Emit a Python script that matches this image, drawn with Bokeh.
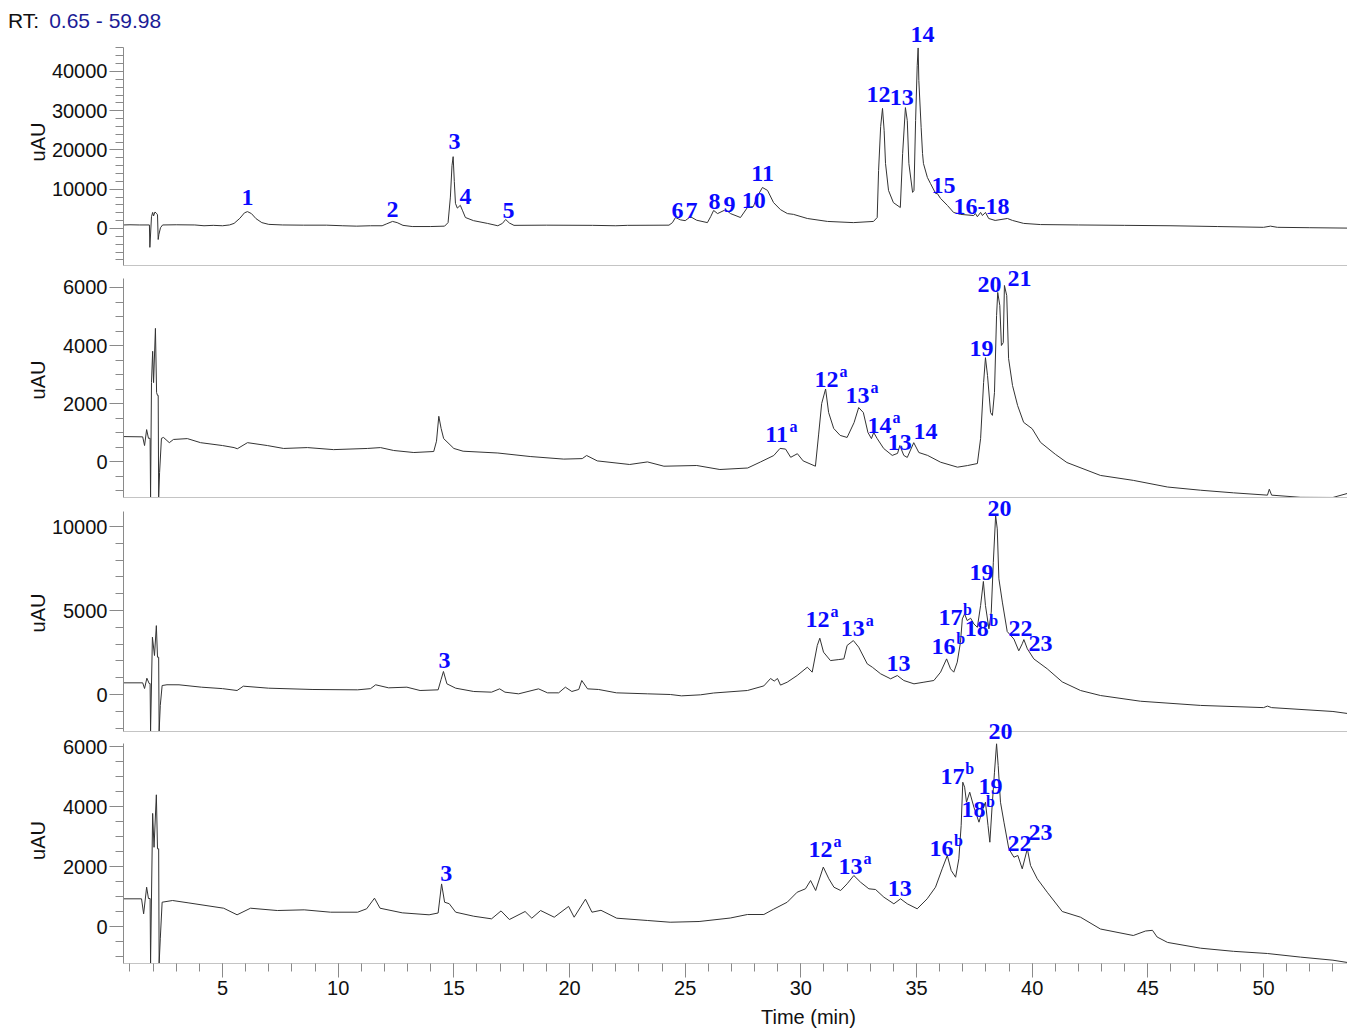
from bokeh.plotting import figure
from bokeh.models import Range1d, SingleIntervalTicker, FixedTicker, LabelSet, ColumnDataSource, Div
from bokeh.layouts import column
from bokeh.core.properties import value
from bokeh.embed import file_html
from bokeh.resources import INLINE

# ---------------- text ----------------
rt_prefix = "RT:"
rt_range_text = "0.65 - 59.98"
x_title = "Time (min)"
y_title = "uAU"

# ---------------- trace 1 ----------------
t1 = [0.72, 1.0, 1.4, 1.84, 1.86, 1.93, 1.98, 2.02, 2.08, 2.14,
      2.19, 2.22, 2.25, 2.32, 2.41, 3.0, 3.8, 4.2, 4.6, 5.0,
      5.3, 5.5, 5.75, 5.95, 6.08, 6.25, 6.45, 6.7, 7.0, 7.6,
      8.5, 9.5, 10.2, 10.8, 11.4, 11.9, 12.1, 12.35, 12.55, 12.8,
      13.2, 14.0, 14.6, 14.75, 14.85, 14.92, 14.97, 15.02, 15.07, 15.15,
      15.28, 15.38, 15.5, 15.85, 16.45, 16.9, 17.1, 17.24, 17.4, 17.6,
      19.0, 21.0, 22.0, 22.5, 24.3, 24.45, 24.58, 24.8, 25.0, 25.23,
      25.5, 25.96, 26.1, 26.23, 26.4, 26.75, 26.96, 27.39, 27.69, 27.95,
      28.1, 28.34, 28.56, 28.82, 29.12, 29.42, 29.68, 30.28, 31.15, 32.27,
      33.14, 33.3, 33.36, 33.45, 33.53, 33.6, 33.66, 33.79, 34.0, 34.3,
      34.4, 34.52, 34.6, 34.67, 34.83, 34.89, 34.96, 35.03, 35.07, 35.1,
      35.2, 35.26, 35.3, 35.47, 35.6, 35.83, 35.9, 36.04, 36.34, 36.6,
      36.9, 37.47, 37.55, 37.63, 37.77, 37.85, 37.98, 38.12, 38.4, 38.93,
      39.15, 39.63, 40.36, 42.0, 44.0, 46.0, 48.0, 50.0, 50.3, 50.6,
      52.0, 53.63]
v1 = [900, 950, 900, 900, -4800, 3000, 4100, 3200, 4200, 3900,
      3500, -2800, -1500, 200, 900, 950, 900, 700, 800, 700,
      900, 1300, 2600, 4000, 4300, 3800, 2500, 1500, 1050, 900,
      850, 850, 700, 600, 700, 700, 1200, 1800, 1500, 800,
      500, 500, 600, 1500, 8000, 16000, 18300, 12000, 6400, 5200,
      5900, 4500, 2800, 2000, 1300, 700, 1300, 2300, 1400, 800,
      850, 800, 700, 800, 850, 1500, 2800, 2200, 2000, 3000,
      2100, 1500, 3000, 4600, 3800, 4800, 3800, 2800, 5350, 5600,
      8000, 10450, 9700, 6600, 4800, 3800, 3600, 2550, 1800, 1500,
      1800, 2800, 14800, 26000, 30600, 25000, 16550, 9700, 6600, 5350,
      19100, 30800, 27500, 16550, 9200, 9700, 27500, 41500, 46000, 37700,
      25700, 19100, 16550, 13000, 11500, 8900, 8900, 7650, 5850, 4100,
      3600, 3300, 3800, 3000, 4100, 3300, 4100, 2550, 2050, 2550,
      2050, 1300, 1000, 900, 800, 700, 500, 300, 600, 300,
      200, 100]

# ---------------- trace 2 ----------------
t2 = [0.72, 1.55, 1.63, 1.72, 1.8, 1.87, 1.89, 1.93, 1.98, 2.02,
      2.1, 2.15, 2.19, 2.22, 2.24, 2.28, 2.36, 2.45, 2.7, 2.88,
      3.48, 4.05, 5.0, 5.5, 5.64, 6.08, 6.94, 7.64, 8.67, 9.8,
      11.26, 11.83, 12.4, 13.27, 14.13, 14.25, 14.35, 14.45, 14.56, 15.0,
      15.4, 16.9, 18.3, 19.75, 20.55, 20.74, 21.2, 22.6, 23.37, 24.08,
      25.5, 26.5, 27.7, 28.26, 28.83, 29.1, 29.34, 29.56, 29.85, 30.1,
      30.63, 30.77, 30.9, 31.07, 31.2, 31.42, 31.7, 32.0, 32.3, 32.5,
      32.7, 32.9, 33.05, 33.15, 33.3, 33.58, 33.95, 34.18, 34.28, 34.45,
      34.6, 34.88, 35.1, 35.48, 36.04, 36.77, 37.2, 37.63, 37.77, 37.9,
      37.98, 38.07, 38.2, 38.28, 38.37, 38.46, 38.51, 38.6, 38.67, 38.75,
      38.8, 38.9, 38.98, 39.15, 39.37, 39.63, 40.0, 40.36, 41.0, 41.5,
      42.95, 44.37, 45.85, 47.28, 48.7, 50.17, 50.25, 50.35, 51.6, 53.0,
      53.63]
v2 = [860, 850, 550, 1100, 800, 800, -1240, 2720, 3800, 2720,
      4590, 2380, 2280, 2280, -1240, -380, 800, 830, 650, 760,
      790, 650, 550, 480, 440, 650, 550, 450, 480, 410,
      450, 480, 380, 310, 345, 700, 1560, 1140, 790, 450,
      355, 293, 172, 83, 100, 207, 21, -103, -14, -162,
      -138, -276, -224, -14, 207, 452, 428, 145, 269, 21,
      -162, 945, 2000, 2500, 1690, 1140, 900, 830, 1340, 1860,
      1690, 1000, 790, 1000, 790, 450, 210, 280, 550, 210,
      140, 650, 310, 210, -24, -195, -140, -70, 790, 2720,
      3580, 2960, 1690, 1590, 2380, 5030, 5830, 5380, 4000, 4100,
      6070, 5720, 3550, 2620, 1930, 1350, 1130, 660, 250, -35,
      -480, -650, -880, -990, -1080, -1160, -955, -1160, -1235, -1240,
      -1100]

# ---------------- trace 3 ----------------
t3 = [0.72, 1.55, 1.63, 1.73, 1.83, 1.87, 1.89, 1.97, 2.06, 2.14,
      2.19, 2.24, 2.26, 2.31, 2.39, 2.6, 3.12, 4.09, 5.0, 5.63,
      5.9, 6.99, 8.91, 10.84, 11.4, 11.62, 12.18, 12.97, 13.54, 14.32,
      14.45, 14.55, 14.7, 15.08, 15.86, 16.63, 16.98, 17.21, 17.8, 18.66,
      19.05, 19.53, 19.82, 20.1, 20.4, 20.53, 20.78, 21.26, 22.03, 23.38,
      24.36, 24.84, 25.66, 26.23, 27.69, 28.4, 28.69, 28.85, 28.99, 29.12,
      29.41, 29.84, 30.28, 30.49, 30.71, 30.82, 30.98, 31.28, 31.64, 31.86,
      32.0, 32.27, 32.5, 32.87, 33.09, 33.45, 33.88, 34.17, 34.45, 34.89,
      35.32, 35.75, 36.04, 36.3, 36.47, 36.61, 36.76, 36.9, 36.98, 37.08,
      37.19, 37.34, 37.48, 37.63, 37.77, 37.89, 37.98, 38.13, 38.23, 38.32,
      38.42, 38.49, 38.56, 38.71, 38.92, 39.21, 39.42, 39.57, 39.64, 39.79,
      40.07, 40.65, 41.3, 42.09, 42.95, 44.68, 47.28, 50.0, 50.17, 50.35,
      53.0, 53.63]
v3 = [695, 695, 357, 970, 655, 655, -2200, 3410, 2320, 4100,
      2220, 2220, -2200, -650, 535, 580, 577, 436, 350, 238,
      496, 377, 298, 278, 350, 577, 397, 436, 238, 278,
      900, 1370, 635, 377, 179, 139, 337, 139, 40, 337,
      99, 99, 436, 179, 300, 833, 337, 298, 99, 40,
      0, -80, -20, 89, 238, 512, 952, 800, 952, 560,
      734, 1130, 1625, 1330, 2920, 3350, 2520, 2020, 2080, 2120,
      2920, 3210, 2820, 1825, 1625, 1230, 935, 1130, 833, 635,
      734, 833, 1330, 2120, 1530, 1330, 1925, 3110, 4500, 4800,
      4400, 4540, 4200, 4000, 5300, 6730, 5300, 3910, 4900, 7870,
      10650, 9860, 6890, 5500, 3750, 3300, 2600, 3020, 3270, 2720,
      2120, 1530, 750, 238, -60, -400, -650, -780, -690, -780,
      -1010, -1130]

# ---------------- trace 4 ----------------
t4 = [0.72, 1.5, 1.59, 1.72, 1.8, 1.87, 1.89, 1.98, 2.04, 2.14,
      2.19, 2.24, 2.26, 2.31, 2.39, 2.84, 3.51, 5.05, 5.63, 6.21,
      7.37, 8.53, 9.67, 10.84, 11.23, 11.57, 11.81, 12.77, 13.93, 14.32,
      14.47, 14.6, 14.8, 15.08, 15.86, 16.63, 17.04, 17.4, 18.08, 18.37,
      18.75, 19.34, 19.96, 20.2, 20.69, 20.97, 21.36, 22.04, 23.38, 24.35,
      25.6, 26.95, 27.69, 28.4, 28.83, 29.41, 29.84, 30.2, 30.42, 30.64,
      30.97, 31.21, 31.43, 31.72, 32.0, 32.29, 32.58, 32.94, 33.23, 33.59,
      34.02, 34.31, 34.6, 35.03, 35.46, 35.82, 36.11, 36.33, 36.5, 36.69,
      36.83, 36.93, 37.0, 37.08, 37.16, 37.3, 37.48, 37.7, 37.84, 37.98,
      38.09, 38.17, 38.27, 38.37, 38.46, 38.53, 38.63, 38.78, 38.99, 39.21,
      39.38, 39.57, 39.79, 39.93, 40.22, 40.65, 41.3, 42.09, 42.95, 44.37,
      44.9, 45.2, 45.4, 45.85, 47.28, 48.7, 50.17, 51.6, 53.0, 53.63]
v4 = [923, 923, 423, 1310, 933, 933, -1230, 3770, 2640, 4390,
      2590, 2590, -1230, -410, 810, 867, 790, 610, 390, 610,
      533, 556, 477, 477, 590, 944, 610, 456, 390, 450,
      1420, 810, 760, 477, 343, 256, 520, 233, 500, 277,
      533, 310, 670, 310, 910, 477, 540, 277, 200, 143,
      167, 283, 400, 400, 580, 810, 1143, 1257, 1533, 1200,
      1980, 1590, 1310, 1200, 1423, 1700, 1477, 1257, 1233, 977,
      757, 923, 757, 590, 923, 1310, 1923, 2367, 1867, 1643,
      2257, 3367, 4810, 4643, 4143, 4477, 3977, 3477, 3867, 4143,
      3367, 2810, 4033, 5143, 6090, 5367, 4143, 3477, 2590, 2310,
      2367, 1923, 2590, 2033, 1590, 1143, 500, 310, -83, -300,
      -150, -127, -350, -530, -723, -827, -900, -1020, -1123, -1200]

# ---------------- peak labels ----------------
p1_names = ["1", "2", "3", "4", "5", "6", "7", "8", "9", "10", "11", "12", "13", "14", "15", "16-18"]
p1_sup = [""] * 16
p1_lt = [6.08, 12.35, 15.03, 15.5, 17.36, 24.67, 25.27, 26.27, 26.92, 27.96, 28.35, 33.36, 34.36, 35.26, 36.17, 37.81]
p1_lv = [7900, 4840, 22170, 8150, 4590, 4590, 4590, 6880, 6120, 7130, 14010, 34140, 33380, 49430, 10960, 5610]

p2_names = ["11", "12", "13", "14", "13", "14", "19", "20", "21"]
p2_sup = ["a", "a", "a", "a", "", "", "", "", ""]
p2_lt = [28.95, 31.11, 32.45, 33.4, 34.27, 35.39, 37.81, 38.16, 39.45]
p2_lv = [931, 2827, 2276, 1241, 655, 1034, 3896, 6103, 6310]

p3_names = ["3", "12", "13", "13", "16", "17", "18", "19", "20", "22", "23"]
p3_sup = ["", "a", "a", "", "b", "b", "b", "", "", "", ""]
p3_lt = [14.6, 30.72, 32.24, 34.22, 36.17, 36.47, 37.6, 37.81, 38.59, 39.5, 40.36]
p3_lv = [2024, 4464, 3928, 1845, 2857, 4583, 3928, 7261, 11070, 3928, 3036]

p4_names = ["3", "12", "13", "13", "16", "17", "18", "19", "20", "22", "23"]
p4_sup = ["", "a", "a", "", "b", "b", "b", "", "", "", ""]
p4_lt = [14.67, 30.85, 32.15, 34.27, 36.08, 36.56, 37.46, 38.2, 38.63, 39.45, 40.36]
p4_lv = [1777, 2566, 2000, 1267, 2600, 5000, 3900, 4666, 6500, 2766, 3133]

# ---------------- axis settings ----------------
x_start, x_end = 0.72, 53.63
# visible range of each panel's axis, and the (taller) drawing range that leaves room for peak labels
y_bounds = [(-9400, 46100), (-1241, 6310), (-2202, 10893), (-1233, 6100)]
y_ranges = [(-9427, 53503), (-1241, 6862), (-2202, 11905), (-1233, 6967)]
y_intervals = [10000, 2000, 5000, 2000]
y_minors = [5, 4, 5, 4]

LABEL_BLUE = "#0a0aff"
TRACE = "#333333"
AXIS_GRAY = "#8a8a8a"
SEP_GRAY = "#c4c4c4"
FULL_W = 1347

shared_x = Range1d(x_start, x_end)


def make_panel(idx, t, v, names, sups, lt, lv, height, b_bottom, ylab_standoff, shift, last):
    lo, hi = y_ranges[idx]
    p = figure(width=FULL_W, height=height, x_range=shared_x, y_range=Range1d(lo, hi),
               output_backend="svg", toolbar_location=None,
               min_border_left=123, min_border_right=0,
               min_border_top=0, min_border_bottom=b_bottom)
    p.margin = (shift, 0, 0, 0)
    p.background_fill_color = None
    p.border_fill_color = None
    p.outline_line_color = None
    p.grid.visible = False

    yax = p.yaxis[0]
    yax.bounds = y_bounds[idx]
    yax.ticker = SingleIntervalTicker(interval=y_intervals[idx], num_minor_ticks=y_minors[idx])
    yax.axis_line_color = AXIS_GRAY
    yax.major_tick_line_color = AXIS_GRAY
    yax.minor_tick_line_color = AXIS_GRAY
    yax.major_tick_out = 14
    yax.major_tick_in = 0
    yax.minor_tick_out = 8
    yax.minor_tick_in = 0
    yax.major_label_standoff = 2
    yax.major_label_text_font = "Liberation Sans"
    yax.major_label_text_font_size = "20px"
    yax.major_label_text_color = "#111111"
    yax.axis_label = y_title
    yax.axis_label_text_font = "Liberation Sans"
    yax.axis_label_text_font_size = "20px"
    yax.axis_label_text_font_style = "normal"
    yax.axis_label_text_color = "#111111"
    yax.axis_label_standoff = ylab_standoff

    xax = p.xaxis[0]
    xax.axis_line_color = SEP_GRAY
    if last:
        xax.ticker = SingleIntervalTicker(interval=5, num_minor_ticks=5)
        xax.major_tick_line_color = AXIS_GRAY
        xax.minor_tick_line_color = AXIS_GRAY
        xax.major_tick_out = 14
        xax.major_tick_in = 0
        xax.minor_tick_out = 8
        xax.minor_tick_in = 0
        xax.major_label_standoff = 3
        xax.major_label_text_font = "Liberation Sans"
        xax.major_label_text_font_size = "20px"
        xax.major_label_text_color = "#111111"
    else:
        xax.ticker = FixedTicker(ticks=[])
        xax.major_tick_out = 0
        xax.major_tick_in = 0
        xax.minor_tick_out = 0
        xax.minor_tick_in = 0
        xax.major_label_standoff = 0
        xax.major_label_text_font_size = "0px"

    src = ColumnDataSource(dict(t=t, v=v))
    p.line(x="t", y="v", source=src, line_color=TRACE, line_width=1)

    lab_src = ColumnDataSource(dict(t=lt, v=lv, name=names))
    p.add_layout(LabelSet(x="t", y="v", text="name", source=lab_src,
                          text_font=value("Liberation Serif"), text_font_style=value("bold"),
                          text_font_size=value("24px"), text_color=LABEL_BLUE,
                          text_align="center", text_baseline="middle"))
    keep = [i for i, s in enumerate(sups) if s]
    if keep:
        sup_src = ColumnDataSource(dict(t=[lt[i] for i in keep], v=[lv[i] for i in keep],
                                        name=[sups[i] for i in keep]))
        p.add_layout(LabelSet(x="t", y="v", text="name", source=sup_src,
                              x_offset=17, y_offset=8,
                              text_font=value("Liberation Serif"), text_font_style=value("bold"),
                              text_font_size=value("16px"), text_color=LABEL_BLUE,
                              text_align="center", text_baseline="middle"))
    return p


rt_div = Div(text=('<div style="font-family:\'Liberation Sans\';font-size:21px;line-height:22px;'
                   'padding:10px 0 0 8px;white-space:nowrap;color:#111111">'
                   '<span>%s</span><span style="margin-left:10px;color:#1c1c96">%s</span></div>')
             % (rt_prefix, rt_range_text),
             width=400, height=36, margin=(0, 0, 0, 0))

f1 = make_panel(0, t1, v1, p1_names, p1_sup, p1_lt, p1_lv, 249, 2, 0, -18, False)
f2 = make_panel(1, t2, v2, p2_names, p2_sup, p2_lt, p2_lv, 237, 2, 11, -5, False)
f3 = make_panel(2, t3, v3, p3_names, p3_sup, p3_lt, p3_lv, 239, 2, 0, -5, False)
f4 = make_panel(3, t4, v4, p4_names, p4_sup, p4_lt, p4_lv, 287, 41, 11, -16, True)

time_div = Div(text=('<div style="font-family:\'Liberation Sans\';font-size:20px;line-height:26px;'
                     'white-space:nowrap;color:#111111">%s</div>') % x_title,
               width=200, height=26, margin=(0, 0, 0, 761))

layout = column(rt_div, f1, f2, f3, f4, time_div, spacing=0)
open("out.html", "w").write(file_html(layout, INLINE))
